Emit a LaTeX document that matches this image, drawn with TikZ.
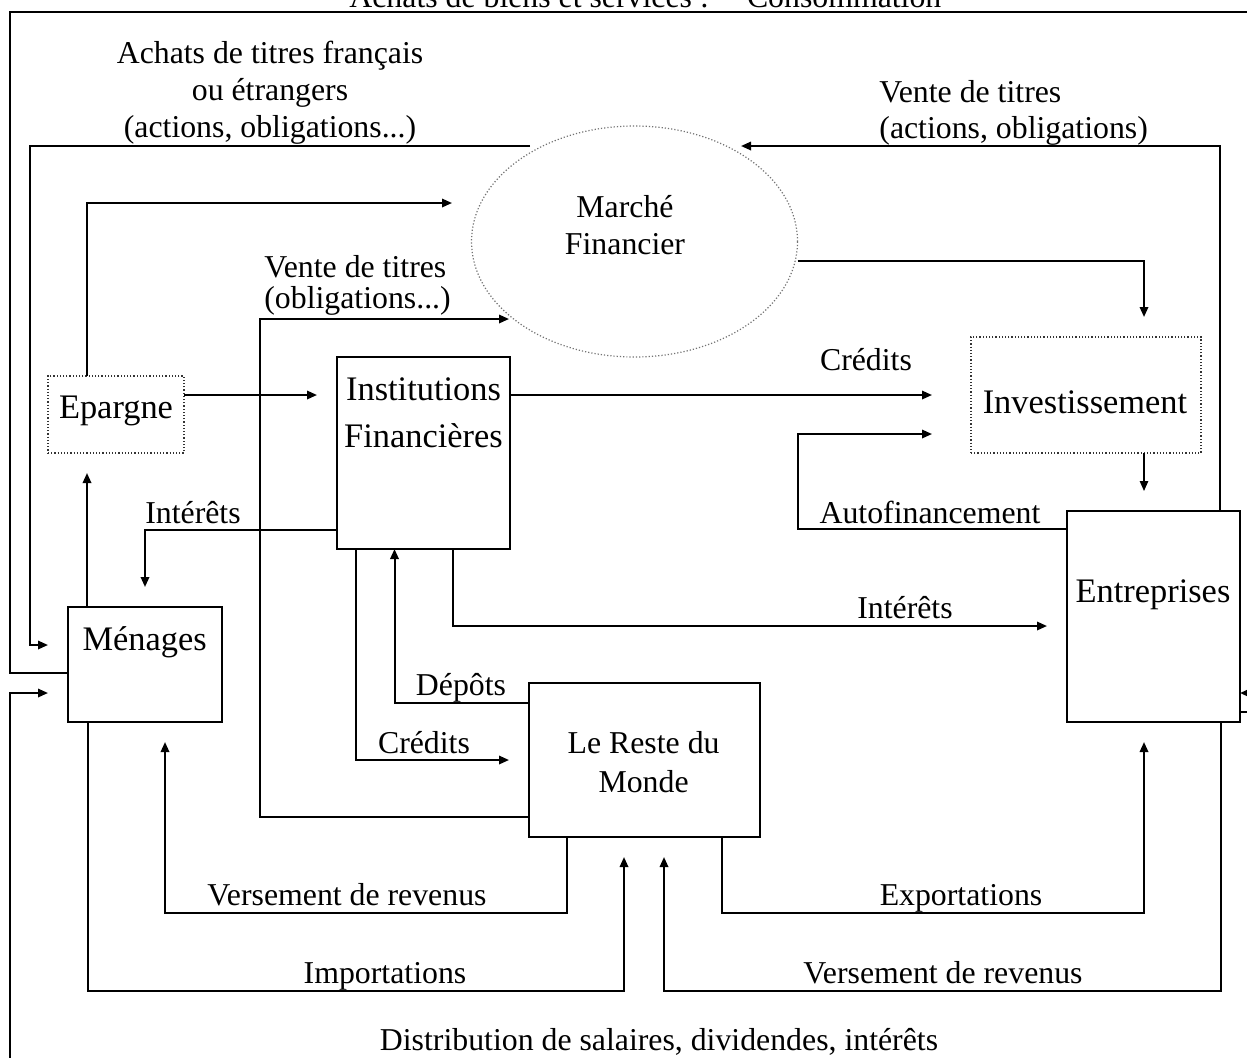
\documentclass[tikz,border=0pt]{standalone}
\usepackage{fontspec}
\setmainfont{Liberation Serif}
\usetikzlibrary{arrows.meta,shapes.geometric}
\begin{document}
\begin{tikzpicture}[x=0.5pt,y=-0.5pt,
  arr/.style={line width=1pt,-{Triangle[length=5pt,width=4.2pt]}},
  gap/.style={shorten >=10pt},
  box/.style={draw,line width=1pt,inner sep=0pt,outer sep=0pt},
  dbox/.style={draw=black!80,densely dotted,line width=0.6pt,inner sep=0pt,outer sep=0pt},
  big/.style={inner sep=0pt,anchor=base,font=\fontsize{17.2pt}{20pt}\selectfont},
  lab/.style={inner sep=0pt,anchor=base,font=\fontsize{15.9pt}{19pt}\selectfont}]
\fill[white] (0,0) rectangle (1247,1057);
\useasboundingbox (0,0) rectangle (1247,1057);

% boxes
\node[box, minimum width=76.75pt, minimum height=57.5pt] (men) at (144.75,664.5) {};
\node[big] (menT) at (144.7,650) {Ménages};
\node[dbox, minimum width=68pt, minimum height=38.5pt] (ep) at (116,414.5) {};
\node[big] (epT) at (116,418) {Epargne};
\node[box, minimum width=86.5pt, minimum height=96pt] (inst) at (423.5,453) {};
\node[big] (instT1) at (423.5,400) {Institutions};
\node[big] (instT2) at (423.5,447) {Financières};
\node[ellipse, draw=black!55, densely dotted, line width=0.6pt, minimum width=163pt, minimum height=115.5pt, inner sep=0pt, outer sep=0pt] (mf) at (634.5,241.5) {};
\node[lab] (mfT1) at (625,217) {Marché};
\node[lab] (mfT2) at (625,254) {Financier};
\node[dbox, minimum width=115pt, minimum height=58pt] (inv) at (1086,395) {};
\node[big] (invT) at (1085,413) {Investissement};
\node[box, minimum width=86.5pt, minimum height=105.5pt] (ent) at (1153.5,616.5) {};
\node[big] (entT) at (1153,602) {Entreprises};
\node[box, minimum width=115.5pt, minimum height=77pt] (rdm) at (644.5,760) {};
\node[lab] (rdmT1) at (643.6,753) {Le Reste du};
\node[lab] (rdmT2) at (643.6,792) {Monde};

\coordinate (mfA) at (530,146);
\coordinate (mfS) at (452,203);
\coordinate (mfV) at (509,319);
\coordinate (mfW) at (741,146);

% consommation (outer top loop)
\draw[arr, line width=1.4pt] (men.west |- 0,673) -- (10,673) -- (10,12) -- (1262,12) -- (1262,693) -- (ent.east |- 0,693);
\node[lab, anchor=base west] (consT) at (349,7) {Achats de biens et services :\hspace{1.2em}Consommation};

% achats de titres
\draw[arr, gap] (mfA) -- (30,146) |- (men.west |- 0,645);
\node[lab] (achT1) at (270,63) {Achats de titres français};
\node[lab] (achT2) at (270,100) {ou étrangers};
\node[lab] (achT3) at (270,137) {(actions, obligations...)};

% epargne
\draw[arr] (ep.north -| 87,0) |- (mfS);
\draw[arr, gap] (men.north -| 87,0) -- (ep.south -| 87,0);
\draw[arr, gap] (ep.east |- 0,395) -- (inst.west |- 0,395);

% vente de titres (obligations)
\draw[arr] (rdm.west |- 0,817) -| (260,319) -- (mfV);
\node[lab, anchor=base west] (vtoT1) at (264,277) {Vente de titres};
\node[lab, anchor=base west] (vtoT2) at (264,308) {(obligations...)};

% credits to investissement
\draw[arr, shorten >=19.5pt] (inst.east |- 0,395) -- (inv.west |- 0,395);
\node[lab] (credT) at (866,370) {Crédits};
\draw[arr, gap] (mf.east |- 0,261) -| (inv.north -| 1144,0);
\draw[arr] (ent.north -| 1220,0) |- (mfW);
\node[lab, anchor=base west] (vtaT1) at (879,102) {Vente de titres};
\node[lab, anchor=base west] (vtaT2) at (879,138) {(actions, obligations)};
\draw[arr, gap, line width=0.7pt] (inv.south -| 1144,0) -- (ent.north -| 1144,0);
\draw[arr, shorten >=19.5pt] (ent.west |- 0,529) -| (798,434) -- (inv.west |- 0,434);
\node[lab] (autoT) at (930,523) {Autofinancement};

% interets
\draw[arr, gap] (inst.west |- 0,530) -| (men.north -| 145,0);
\node[lab] (intMT) at (193,523) {Intérêts};
\draw[arr, gap] (inst.south -| 452.5,0) |- (ent.west |- 0,626);
\node[lab] (intET) at (905,618) {Intérêts};

% credits / depots with reste du monde
\draw[arr, gap] (inst.south -| 356,0) |- (rdm.west |- 0,760);
\node[lab] (credRT) at (424,753) {Crédits};
\draw[arr] (rdm.west |- 0,703) -| (inst.south -| 394.5,0);
\node[lab] (depT) at (461,695) {Dépôts};

% bottom flows
\draw[arr, gap] (rdm.south -| 567,0) |- (165,913) -- (men.south -| 165,0);
\node[lab] (vrLT) at (347,905) {Versement de revenus};
\draw[arr, gap] (men.south -| 88,0) |- (624,991) -- (rdm.south -| 624,0);
\node[lab] (impT) at (385,983) {Importations};
\draw[arr, gap] (rdm.south -| 721.6,0) |- (1144,913) -- (ent.south -| 1144,0);
\node[lab] (expT) at (961,905) {Exportations};
\draw[arr, gap] (ent.south -| 1221,0) |- (664,991) -- (rdm.south -| 664,0);
\node[lab] (vrRT) at (943,983) {Versement de revenus};

% distribution (outer bottom loop)
\draw[arr, gap] (ent.east |- 0,712) -- (1262,712) -- (1262,1075) -- (10,1075) -- (10,693) -- (men.west |- 0,693);
\node[lab] (distT) at (659,1050) {Distribution de salaires, dividendes, intérêts};
\end{tikzpicture}
\end{document}
